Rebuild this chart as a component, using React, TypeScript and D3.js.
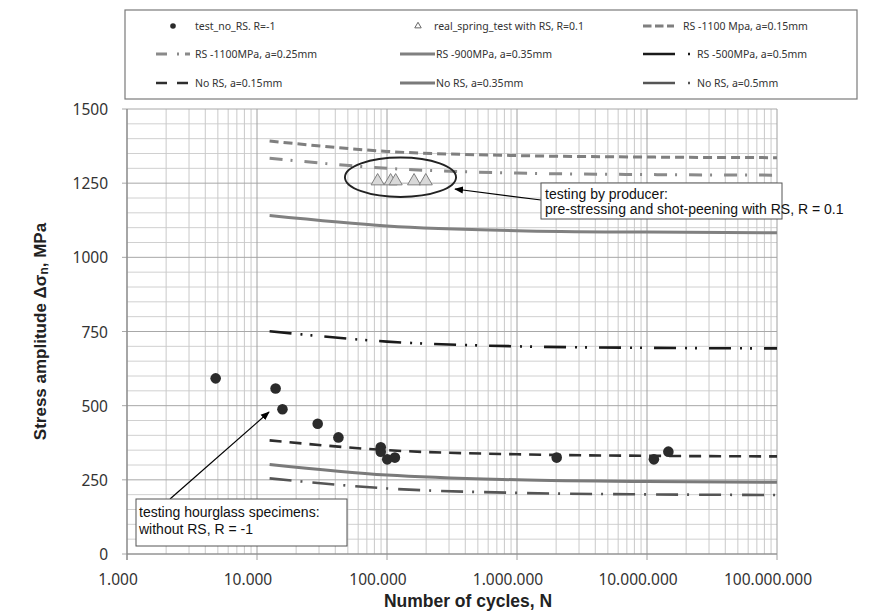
import React from 'react';
import * as d3 from 'd3';

const curveN = [12500, 1e5, 1e6, 1e7, 1e8];

const rs1100a015 = [1392, 1357, 1343, 1338, 1336];
const rs1100a025 = [1334, 1300, 1284, 1279, 1277];
const rs900a035 = [1141, 1106, 1090, 1085, 1083];
const rs500a05 = [751, 716, 700, 695, 693];
const noRsA015 = [383, 350, 336, 331, 329];
const noRsA035 = [302, 266, 250, 244, 242];
const noRsA05 = [255, 221, 206, 201, 199];

// test_no_RS, R=-1
const testN = [4810, 13900, 15700, 29300, 42300, 89500, 89500, 100400, 115000, 2020000, 11300000, 14600000];
const testS = [592, 558, 488, 439, 393, 360, 345, 319, 325, 325, 319, 345];

// real_spring_test with RS, R=0.1
const springN = [84700, 106600, 116600, 161500, 198700];
const springS = [1257, 1257, 1257, 1257, 1257];

const xTicks = [1e3, 1e4, 1e5, 1e6, 1e7, 1e8];
const xTickLabels = ['1.000', '10.000', '100.000', '1.000.000', '10.000.000', '100.000.000'];
const yTicks = [0, 250, 500, 750, 1000, 1250, 1500];

const W = 880;
const H = 611;

const x = d3.scaleLog().domain([1e3, 1e8]).range([127, 777]);
const y = d3.scaleLinear().domain([0, 1500]).range([554, 109]);

// legendDash: how the short sample in the legend box is cut
const curves = [
  { name: 'RS -1100 Mpa, a=0.15mm', values: rs1100a015, color: '#7f7f7f', width: 3, dash: '9,5', legendDash: '8.5,3.5' },
  { name: 'RS -1100MPa, a=0.25mm', values: rs1100a025, color: '#8a8a8a', width: 3, dash: '13,8,2,12', legendDash: '11,10,2,6,20' },
  { name: 'RS -900MPa, a=0.35mm', values: rs900a035, color: '#808080', width: 3, dash: null, legendDash: null },
  { name: 'RS -500MPa, a=0.5mm', values: rs500a05, color: '#1a1a1a', width: 2.6, dash: '22,9,2,8,2,12', legendDash: '32,13,2,100' },
  { name: 'No RS, a=0.15mm', values: noRsA015, color: '#2e2e2e', width: 2.6, dash: '12,8', legendDash: '11,10' },
  { name: 'No RS, a=0.35mm', values: noRsA035, color: '#7a7a7a', width: 3, dash: null, legendDash: null },
  { name: 'No RS, a=0.5mm', values: noRsA05, color: '#555555', width: 2.6, dash: '22,9,2,10', legendDash: '32,13,2,100' },
];

const line = d3
  .line<[number, number]>()
  .x(d => x(d[0]))
  .y(d => y(d[1]))
  .curve(d3.curveMonotoneX);

const minorX: number[] = [];
for (let e = 3; e < 8; e++) {
  for (let m = 2; m <= 9; m++) minorX.push(m * Math.pow(10, e));
}
const minorY = d3.range(50, 1500, 50).filter(v => v % 250 !== 0);

const tri = d3.symbol().type(d3.symbolTriangle).size(74)();
const triSmall = d3.symbol().type(d3.symbolTriangle).size(18)();

const tickFont = '"Noto Sans", "Open Sans", sans-serif';
const annFont = '"Liberation Sans", Arial, sans-serif';

export default function App() {
  const [x0, x1] = x.range();
  const [y0, y1] = y.range();

  // legend layout: three columns, three rows
  const rows = [26, 54, 83];
  const legendItems = [
    { col: 0, row: 0, kind: 'dot', label: 'test_no_RS. R=-1' },
    { col: 1, row: 0, kind: 'tri', label: 'real_spring_test with RS, R=0.1' },
    { col: 2, row: 0, kind: 'line', curve: 0 },
    { col: 0, row: 1, kind: 'line', curve: 1 },
    { col: 1, row: 1, kind: 'line', curve: 2 },
    { col: 2, row: 1, kind: 'line', curve: 3 },
    { col: 0, row: 2, kind: 'line', curve: 4 },
    { col: 1, row: 2, kind: 'line', curve: 5 },
    { col: 2, row: 2, kind: 'line', curve: 6 },
  ];
  const cols = [
    { l0: 156, l1: 190, tx: 195 },
    { l0: 400, l1: 435, tx: 436 },
    { l0: 643, l1: 674, tx: 683 },
  ];

  const ellipseCx = x(127000);
  const ellipseCy = y(1270);
  const ellipseRx = (x(340000) - x(47500)) / 2;
  const ellipseRy = (y(1203) - y(1336)) / 2;

  return (
    <svg width={W} height={H} style={{ position: 'absolute', left: 0, top: 0, background: '#fff' }}>
      <defs>
        <marker id="ah" viewBox="0 0 10 10" refX="9" refY="5" markerWidth="9" markerHeight="9" orient="auto-start-reverse" markerUnits="userSpaceOnUse">
          <path d="M0,1 L10,5 L0,9 Z" fill="#000" />
        </marker>
      </defs>

      {/* legend */}
      <rect x={125} y={10} width={732} height={89} fill="#fff" stroke="#7a7a7a" strokeWidth={1.2} />
      {legendItems.map((it, i) => {
        const c = cols[it.col];
        const ry = rows[it.row];
        if (it.kind === 'dot') {
          return (
            <g key={i}>
              <circle cx={173} cy={ry} r={2.8} fill="#2b2b2b" />
              <text x={c.tx} y={ry} dominantBaseline="central" fontFamily={tickFont} fontSize={10.5} fill="#333">{it.label}</text>
            </g>
          );
        }
        if (it.kind === 'tri') {
          return (
            <g key={i}>
              <path d={triSmall!} transform={`translate(418,${ry})`} fill="#fff" stroke="#666" strokeWidth={1} />
              <text x={434} y={ry} dominantBaseline="central" fontFamily={tickFont} fontSize={10.5} fill="#333">{it.label}</text>
            </g>
          );
        }
        const cv = curves[it.curve!];
        const withDot = it.col === 2 && it.row > 0;
        return (
          <g key={i}>
            <line
              x1={c.l0}
              x2={withDot ? 692 : c.l1}
              y1={ry}
              y2={ry}
              stroke={cv.color}
              strokeWidth={cv.width}
              strokeDasharray={cv.legendDash ?? undefined}
            />
            <text x={withDot ? 697 : c.tx} y={ry} dominantBaseline="central" fontFamily={tickFont} fontSize={10.5} fill="#333">{cv.name}</text>
          </g>
        );
      })}

      {/* grid */}
      {minorY.map(v => (
        <line key={'my' + v} x1={x0} x2={x1} y1={y(v)} y2={y(v)} stroke="#d0d0d0" strokeWidth={1} />
      ))}
      {minorX.map(v => (
        <line key={'mx' + v} x1={x(v)} x2={x(v)} y1={y0} y2={y1} stroke="#c9c9c9" strokeWidth={1} />
      ))}
      {yTicks.map(v => (
        <line key={'gy' + v} x1={x0 - 5} x2={x1} y1={y(v)} y2={y(v)} stroke="#a8a8a8" strokeWidth={1} />
      ))}
      {xTicks.map(v => (
        <line key={'gx' + v} x1={x(v)} x2={x(v)} y1={y1} y2={y0 + 6} stroke="#a0a0a0" strokeWidth={1} />
      ))}
      <line x1={x0} x2={x0} y1={y1} y2={y0 + 6} stroke="#8a8a8a" strokeWidth={1.2} />
      <line x1={x0} x2={x1} y1={y0} y2={y0} stroke="#8a8a8a" strokeWidth={1.2} />

      {/* tick labels */}
      {yTicks.map(v => (
        <text key={'ty' + v} x={108} y={y(v)} textAnchor="end" dominantBaseline="central" fontFamily={tickFont} fontSize={15.5} fill="#333">
          {v}
        </text>
      ))}
      {xTicks.map((v, i) => (
        <text key={'tx' + v} x={x(v) - 9} y={579} textAnchor="middle" dominantBaseline="central" fontFamily={tickFont} fontSize={15.5} fill="#333">
          {xTickLabels[i]}
        </text>
      ))}

      {/* axis titles */}
      <text x={468} y={601} textAnchor="middle" dominantBaseline="central" fontFamily={annFont} fontWeight="bold" fontSize={17.5} fill="#222">
        Number of cycles, N
      </text>
      <text
        transform={`translate(40,${(y0 + y1) / 2}) rotate(-90)`}
        textAnchor="middle"
        dominantBaseline="central"
        fontFamily={annFont}
        fontWeight="bold"
        fontSize={17}
        fill="#222"
      >
        Stress amplitude Δσ<tspan fontSize={12} dy={4}>n</tspan><tspan dy={-4}>, MPa</tspan>
      </text>

      {/* model curves */}
      {curves.map(c => (
        <path
          key={c.name}
          d={line(curveN.map((n, i) => [n, c.values[i]] as [number, number]))!}
          fill="none"
          stroke={c.color}
          strokeWidth={c.width}
          strokeDasharray={c.dash ?? undefined}
        />
      ))}

      {/* test points */}
      {testN.map((n, i) => (
        <circle key={'t' + i} cx={x(n)} cy={y(testS[i])} r={5.3} fill="#2b2b2b" />
      ))}
      {springN.map((n, i) => (
        <path key={'s' + i} d={tri!} transform={`translate(${x(n)},${y(springS[i])})`} fill="#d9d9d9" stroke="#7f7f7f" strokeWidth={1} />
      ))}

      {/* annotations */}
      <ellipse cx={ellipseCx} cy={ellipseCy} rx={ellipseRx} ry={ellipseRy} fill="none" stroke="#222" strokeWidth={1.9} />
      <line x1={541} y1={200} x2={455} y2={189} stroke="#000" strokeWidth={1.2} markerEnd="url(#ah)" />
      <rect x={541} y={183} width={241} height={36} fill="#fff" stroke="#555" strokeWidth={1} />
      <text x={545} y={199} fontFamily={annFont} fontSize={14} fill="#111">testing by producer:</text>
      <text x={545} y={214} fontFamily={annFont} fontSize={14} fill="#111">pre-stressing and shot-peening with RS, R = 0.1</text>

      <line x1={170} y1={499} x2={269} y2={412} stroke="#000" strokeWidth={1.2} markerEnd="url(#ah)" />
      <rect x={136} y={499} width={211} height={47} fill="#fff" stroke="#555" strokeWidth={1} />
      <text x={139} y={517} fontFamily={annFont} fontSize={14} fill="#111">testing hourglass specimens:</text>
      <text x={139} y={534} fontFamily={annFont} fontSize={14} fill="#111">without RS, R = -1</text>
    </svg>
  );
}
